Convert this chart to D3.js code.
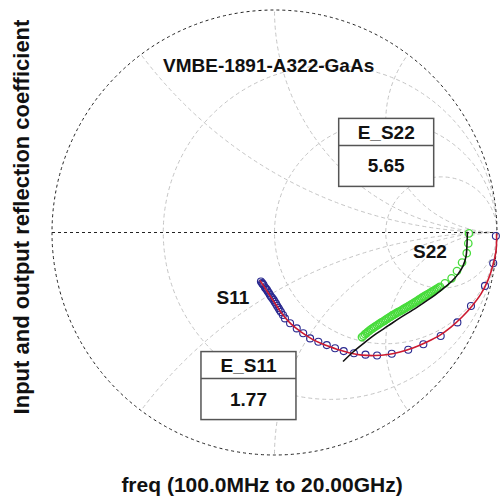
<!DOCTYPE html>
<html>
<head>
<meta charset="utf-8">
<script src="https://cdn.jsdelivr.net/npm/d3@7"></script>
<style>
  html, body { margin: 0; padding: 0; background: #fff; }
  svg { display: block; }
  text { font-family: "Liberation Sans", Arial, Helvetica, sans-serif; font-weight: bold; fill: #111; }
</style>
</head>
<body>
<svg id="chart" width="504" height="499"></svg>
<script>
// Reflection coefficients as [real, imag] pairs
const s11Measured = [
  [0.995, -0.016], [0.983, -0.138], [0.946, -0.240], [0.883, -0.330], [0.822, -0.404],
  [0.747, -0.465], [0.669, -0.502], [0.601, -0.527], [0.527, -0.545], [0.461, -0.553],
  [0.409, -0.549], [0.357, -0.543], [0.311, -0.533], [0.272, -0.520], [0.235, -0.506],
  [0.197, -0.491], [0.160, -0.476], [0.129, -0.453], [0.100, -0.431], [0.070, -0.408],
  [0.047, -0.386], [0.038, -0.371], [0.029, -0.357], [0.023, -0.348], [0.018, -0.339],
  [0.012, -0.330], [0.007, -0.321], [0.001, -0.312], [-0.004, -0.303], [-0.010, -0.295],
  [-0.016, -0.288], [-0.021, -0.280], [-0.025, -0.272], [-0.030, -0.265], [-0.034, -0.258],
  [-0.039, -0.252], [-0.043, -0.247], [-0.049, -0.236], [-0.053, -0.231], [-0.056, -0.227],
  [-0.061, -0.220]
];
const s11Model = [
  [0.998, -0.005], [0.996, -0.079], [0.982, -0.146], [0.960, -0.213], [0.928, -0.276],
  [0.888, -0.330], [0.843, -0.380], [0.793, -0.425], [0.744, -0.461], [0.685, -0.492],
  [0.622, -0.519], [0.564, -0.537], [0.510, -0.548], [0.452, -0.553], [0.393, -0.551],
  [0.339, -0.542], [0.285, -0.526], [0.227, -0.506], [0.169, -0.479], [0.119, -0.447],
  [0.074, -0.411], [0.038, -0.371], [0.007, -0.326], [-0.020, -0.285], [-0.043, -0.249],
  [-0.061, -0.222], [-0.065, -0.215]
];
const s22Measured = [
  [0.874, -0.004], [0.871, -0.049], [0.864, -0.093], [0.843, -0.135], [0.820, -0.173],
  [0.796, -0.206], [0.766, -0.228], [0.744, -0.244], [0.737, -0.249], [0.730, -0.253],
  [0.724, -0.257], [0.717, -0.261], [0.710, -0.265], [0.703, -0.269], [0.697, -0.273],
  [0.690, -0.277], [0.683, -0.281], [0.676, -0.285], [0.670, -0.289], [0.663, -0.293],
  [0.656, -0.298], [0.649, -0.302], [0.643, -0.307], [0.636, -0.311], [0.629, -0.315],
  [0.622, -0.319], [0.616, -0.323], [0.609, -0.327], [0.603, -0.331], [0.596, -0.335],
  [0.589, -0.339], [0.582, -0.343], [0.576, -0.347], [0.569, -0.351], [0.562, -0.355],
  [0.555, -0.358], [0.549, -0.362], [0.542, -0.366], [0.535, -0.370], [0.528, -0.374],
  [0.522, -0.378], [0.515, -0.382], [0.508, -0.387], [0.501, -0.391], [0.495, -0.396],
  [0.488, -0.400], [0.481, -0.404], [0.474, -0.408], [0.468, -0.413], [0.461, -0.417],
  [0.454, -0.422], [0.447, -0.426], [0.441, -0.431], [0.434, -0.435], [0.427, -0.441],
  [0.420, -0.446], [0.414, -0.452], [0.407, -0.457], [0.400, -0.464], [0.393, -0.470]
];
const s22Model = [
  [0.867, 0.002], [0.865, -0.056], [0.861, -0.106], [0.847, -0.151], [0.825, -0.187],
  [0.798, -0.218], [0.762, -0.249], [0.721, -0.281], [0.676, -0.312], [0.622, -0.348],
  [0.564, -0.384], [0.510, -0.420], [0.456, -0.456], [0.402, -0.497], [0.353, -0.537],
  [0.308, -0.580]
];

// Smith grid values
const resistanceCircles = [1 / 3, 1, 3];
const reactanceArcs = [0.5, 1, 2, -0.5, -1, -2];

const chartTitle = "VMBE-1891-A322-GaAs";
const xAxisLabel = "freq (100.0MHz to 20.00GHz)";
const yAxisLabel = "Input and output reflection coefficient";
const curveLabels = [
  { name: "S11", at: [-0.187, -0.321] },
  { name: "S22", at: [0.699, -0.116] }
];
const errorBoxes = [
  { name: "E_S22", value: "5.65", at: [0.502, 0.360] },
  { name: "E_S11", value: "1.77", at: [-0.117, -0.688] }
];

const svg = d3.select("#chart");
const cx = 274.5, cy = 232.5, R = 222.5;
const x = d3.scaleLinear().domain([-1, 1]).range([cx - R, cx + R]);
const y = d3.scaleLinear().domain([-1, 1]).range([cy + R, cy - R]);
const unit = x(1) - x(0);

svg.append("defs").append("clipPath").attr("id", "disc")
  .append("circle").attr("cx", x(0)).attr("cy", y(0)).attr("r", unit);

const grid = svg.append("g").attr("clip-path", "url(#disc)")
  .attr("fill", "none").attr("stroke", "#c4c4c4").attr("stroke-width", 1)
  .attr("stroke-dasharray", "4,3");

grid.selectAll("circle.r").data(resistanceCircles).join("circle")
  .attr("class", "r")
  .attr("cx", r => x(r / (1 + r)))
  .attr("cy", y(0))
  .attr("r", r => unit / (1 + r));

grid.selectAll("circle.xarc").data(reactanceArcs).join("circle")
  .attr("class", "xarc")
  .attr("cx", x(1))
  .attr("cy", v => y(1 / v))
  .attr("r", v => unit / Math.abs(v));

// Unit circle and real axis
svg.append("circle")
  .attr("cx", x(0)).attr("cy", y(0)).attr("r", unit)
  .attr("fill", "none").attr("stroke", "#222").attr("stroke-width", 1)
  .attr("stroke-dasharray", "3,3");
svg.append("line")
  .attr("x1", x(-1)).attr("x2", x(1)).attr("y1", y(0)).attr("y2", y(0))
  .attr("stroke", "#222").attr("stroke-width", 1).attr("stroke-dasharray", "3,3");

const line = d3.line().x(d => x(d[0])).y(d => y(d[1])).curve(d3.curveCatmullRom);

// Measured points
svg.append("g").selectAll("circle").data(s11Measured).join("circle")
  .attr("cx", d => x(d[0])).attr("cy", d => y(d[1])).attr("r", 3.5)
  .attr("fill", "none").attr("stroke", "#2a2a90").attr("stroke-width", 1.1);
svg.append("g").selectAll("circle").data(s22Measured).join("circle")
  .attr("cx", d => x(d[0])).attr("cy", d => y(d[1])).attr("r", 3.7)
  .attr("fill", "none").attr("stroke", "#48dc3c").attr("stroke-width", 1.3);

// Model curves
svg.append("path").datum(s11Model).attr("d", line)
  .attr("fill", "none").attr("stroke", "#cc1a30").attr("stroke-width", 1.6);
svg.append("path").datum(s22Model).attr("d", line)
  .attr("fill", "none").attr("stroke", "#111").attr("stroke-width", 1.6);

// Texts
svg.append("text").attr("x", 163).attr("y", 72).attr("font-size", 19).text(chartTitle);

svg.selectAll("text.curve").data(curveLabels).join("text")
  .attr("class", "curve")
  .attr("x", d => x(d.at[0])).attr("y", d => y(d.at[1]))
  .attr("text-anchor", "middle").attr("font-size", 19)
  .text(d => d.name);

const boxW = 95, boxH = 68, headH = 27;
const boxes = svg.selectAll("g.box").data(errorBoxes).join("g")
  .attr("class", "box")
  .attr("transform", d => `translate(${x(d.at[0]) - boxW / 2},${y(d.at[1]) - boxH / 2})`);
boxes.append("rect").attr("width", boxW).attr("height", boxH)
  .attr("fill", "#fff").attr("stroke", "#555").attr("stroke-width", 1.5);
boxes.append("line").attr("x1", 0).attr("x2", boxW).attr("y1", headH).attr("y2", headH)
  .attr("stroke", "#555").attr("stroke-width", 1.5);
boxes.append("text").attr("x", boxW / 2).attr("y", 20.5).attr("text-anchor", "middle")
  .attr("font-size", 19).text(d => d.name);
boxes.append("text").attr("x", boxW / 2).attr("y", 54).attr("text-anchor", "middle")
  .attr("font-size", 19).text(d => d.value);

svg.append("text").attr("x", 262).attr("y", 492).attr("text-anchor", "middle")
  .attr("font-size", 21).text(xAxisLabel);
svg.append("text").attr("transform", "translate(29,217) rotate(-90)")
  .attr("text-anchor", "middle").attr("font-size", 22).text(yAxisLabel);
</script>
</body>
</html>
